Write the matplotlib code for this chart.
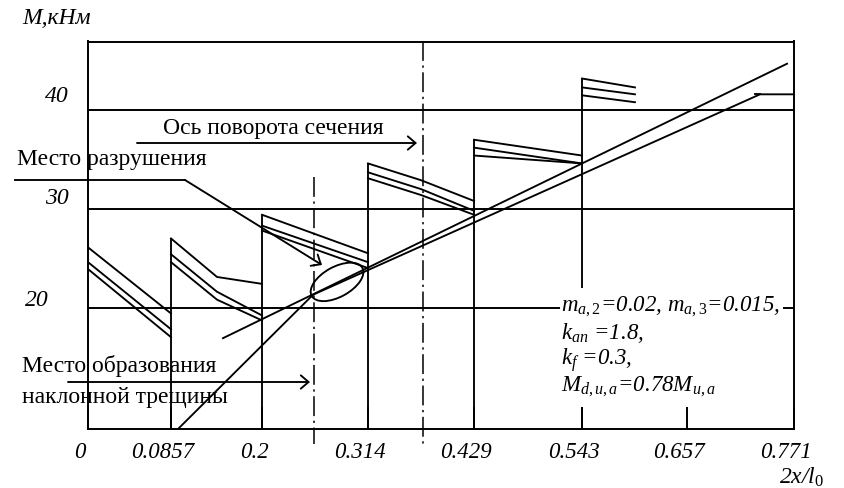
import numpy as np
import matplotlib.pyplot as plt
from matplotlib.patches import Ellipse, Rectangle
from matplotlib.lines import Line2D
from matplotlib.transforms import ScaledTranslation

plt.rcParams['font.family'] = ['Liberation Serif', 'DejaVu Serif']
plt.rcParams['mathtext.fontset'] = 'custom'
plt.rcParams['mathtext.rm'] = 'Liberation Serif'
plt.rcParams['mathtext.it'] = 'Liberation Serif:italic'

W, H = 845, 488

# ось x: подписи 2x/l0
x_ticks = [0, 0.0857, 0.2, 0.314, 0.429, 0.543, 0.657, 0.771]
x_labels = ['0', '0.0857', '0.2', '0.314', '0.429', '0.543', '0.657', '0.771']
y_ticks = [20, 30, 40]
y_labels = ['20', '30', '40']

# пилообразные участки (три кривые на каждом)
seg_x = [[0, 0.0857],
         [0.0857, 0.1435, 0.2],
         [0.2, 0.314],
         [0.314, 0.3715, 0.429],
         [0.429, 0.543],
         [0.543, 0.6005]]
seg_top = [[26.1, 19.4], [27.0, 23.1, 22.4], [29.4, 25.5], [34.6, 32.9, 30.8], [37.0, 35.4], [43.2, 42.3]]
seg_mid = [[24.6, 17.8], [25.4, 21.6, 19.2], [28.3, 24.6], [33.7, 32.0, 29.8], [36.2, 34.6], [42.3, 41.6]]
seg_low = [[23.9, 17.0], [24.6, 20.8, 18.7], [27.8, 24.0], [33.1, 31.4, 29.4], [35.4, 34.6], [41.5, 40.8]]

# вертикальные скачки
jump_x = [0.0857, 0.2, 0.314, 0.429, 0.543]
jump_top = [27.0, 29.4, 34.6, 37.0, 43.2]

# наклонные прямые
upper_x = [0.151, 0.7636]
upper_y = [16.9, 44.7]
lower_x = [0.0945, 0.2549, 0.7348, 0.771]
lower_y = [7.7, 21.3, 41.6, 41.6]

# штрих-пунктирные оси
axis_x = [0.2559, 0.3737]
axis_top = [33.2, 47.0]

ellipse_c = (0.2807, 22.6)

# неравномерная разметка оси x как на рисунке
x_pos = [88, 171, 262, 368, 474, 582, 687, 794]
xa = [-1.0] + x_ticks + [2.0]
pa = [88 - 916] + x_pos + [794 + 1100]


def fwd(v):
    return np.interp(v, xa, pa)


def inv(p):
    return np.interp(p, pa, xa)


def fp(x, y):
    return x / W, 1 - y / H


fig = plt.figure(figsize=(W / 100, H / 100), dpi=100)
ax = fig.add_axes([88 / W, 1 - 429 / H, (794 - 88) / W, (429 - 41.5) / H])
ax.set_xscale('function', functions=(fwd, inv))
ax.set_xlim(0, 0.771)
ax.set_ylim(7.7, 46.95)

lw = 1.35
for s in ax.spines.values():
    s.set_linewidth(1.4)

for yv in y_ticks:
    ax.axhline(yv, color='k', lw=1.4)

for xs, a, b, c in zip(seg_x, seg_top, seg_mid, seg_low):
    for ys in (a, b, c):
        ax.plot(xs, ys, color='k', lw=lw)

ax.vlines(jump_x, 7.7, jump_top, color='k', lw=lw)
ax.plot(upper_x, upper_y, color='k', lw=lw)
ax.plot(lower_x, lower_y, color='k', lw=lw)
ax.plot([0.7298, 0.7348], [41.6, 41.6], color='k', lw=lw)

for xv, top in zip(axis_x, axis_top):
    ax.plot([xv, xv], [top, 6.2], color='k', lw=1.1,
            linestyle=(0, (13, 3, 1.5, 3)), clip_on=False)

ell = Ellipse((0, 0), 0.58, 0.30, angle=29, fill=False, ec='k', lw=lw,
              transform=fig.dpi_scale_trans + ScaledTranslation(*ellipse_c, ax.transData))
ax.add_artist(ell)

ax.set_xticks(x_ticks, x_labels, fontstyle='italic', fontsize=16.5)
ax.tick_params(axis='x', direction='in', length=16, width=1.4, pad=9)
for lab in ax.get_xticklabels():
    lab.set_transform(lab.get_transform() + ScaledTranslation(-0.08, 0, fig.dpi_scale_trans))

ax.set_yticks(y_ticks, y_labels, fontstyle='italic', fontsize=17)
ax.tick_params(axis='y', length=0, pad=14)
y_shift = {'20': (-0.2, 0.10), '30': (0, 0.13), '40': (0, 0.16)}
for lab in ax.get_yticklabels():
    dx, dy = y_shift[lab.get_text()]
    lab.set_transform(lab.get_transform() + ScaledTranslation(dx, dy, fig.dpi_scale_trans))

fs = 17
fig.text(*fp(22, 18), 'M,кНм', ha='left', va='center', style='italic', fontsize=fs)
fig.text(*fp(824, 477), r'2x/$l_\mathit{0}$', ha='right', va='center', style='italic', fontsize=fs)

# блок параметров
fig.add_artist(Rectangle(fp(560, 407), (783 - 560) / W, (407 - 288) / H,
                         transform=fig.transFigure, fc='white', ec='none', zorder=5))
params = [r'$m_{\mathit{a,2}}$=0.02, $m_{\mathit{a,3}}$=0.015,',
          r'$k_{an}$ =1.8,',
          r'$k_f$ =0.3,',
          r'$M_{d,u,a}$=0.78$M_{u,a}$']
for s, yy in zip(params, [307, 333, 360, 387]):
    fig.text(*fp(561, yy), s, ha='left', va='center', style='italic', fontsize=16.5, zorder=6)

arrow = dict(arrowstyle='->,head_length=0.35,head_width=0.3', color='k', lw=lw,
             shrinkA=0, shrinkB=0, mutation_scale=16)

fig.text(*fp(17, 159), 'Место разрушения', ha='left', va='center', fontsize=fs)
fig.add_artist(Line2D([15 / W, 185 / W], [1 - 180 / H] * 2, transform=fig.transFigure, color='k', lw=lw))
ax.annotate('', xy=(322, H - 265), xycoords='figure pixels',
            xytext=(185, H - 180), textcoords='figure pixels', arrowprops=arrow)

fig.text(*fp(163, 128), 'Ось поворота сечения', ha='left', va='center', fontsize=fs)
ax.annotate('', xy=(417, H - 143), xycoords='figure pixels',
            xytext=(137, H - 143), textcoords='figure pixels', arrowprops=arrow)

fig.text(*fp(22, 366), 'Место образования', ha='left', va='center', fontsize=fs)
fig.text(*fp(22, 397), 'наклонной трещины', ha='left', va='center', fontsize=fs)
ax.annotate('', xy=(310, H - 382), xycoords='figure pixels',
            xytext=(68, H - 382), textcoords='figure pixels', arrowprops=arrow)

fig.savefig('out.png', dpi=100)
